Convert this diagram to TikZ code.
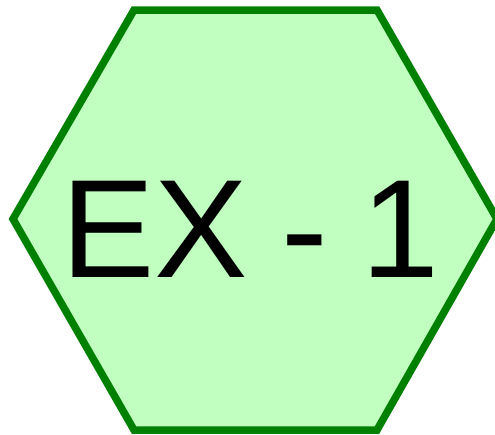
\documentclass[tikz,border=0pt]{standalone}
\usepackage{fontspec}
\setmainfont{Liberation Sans}
\definecolor{hexfill}{HTML}{C0FFC0}
\definecolor{hexline}{HTML}{008000}
\begin{document}
\begin{tikzpicture}[x=1pt,y=-1pt,
  hexstyle/.style={draw=hexline,fill=hexfill,line width=7.5pt,line join=miter},
  labelstyle/.style={inner sep=0pt,anchor=base west,font=\fontsize{140}{160}\selectfont}]
\useasboundingbox (0,0) rectangle (495,434);
\draw[hexstyle] (134,10) -- (377,10) -- (497,219) -- (377,430) -- (134,430) -- (13,219) -- cycle;
\node[labelstyle] (ex) at (61,277) {EX\hspace{0.24em}-\hspace{0.24em}1};
\end{tikzpicture}
\end{document}
